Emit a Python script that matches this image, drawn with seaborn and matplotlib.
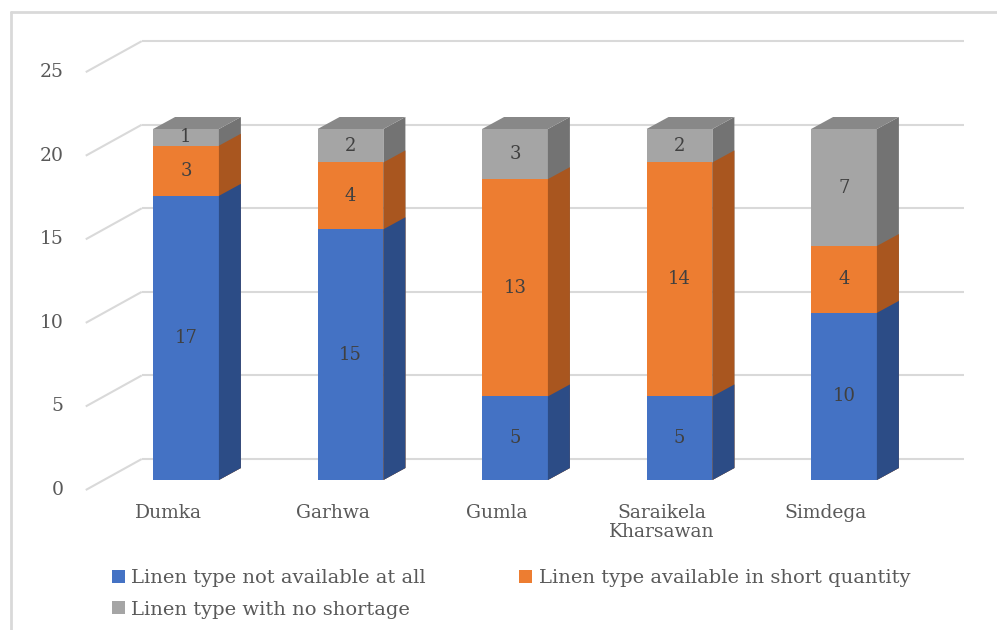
import numpy as np
import pandas as pd
import matplotlib
matplotlib.use("Agg")
import matplotlib.pyplot as plt
import seaborn as sns
from matplotlib.patches import Polygon, Patch
from matplotlib.lines import Line2D

# ---- data -------------------------------------------------------------
districts = ["Dumka", "Garhwa", "Gumla", "Saraikela\nKharsawan", "Simdega"]
not_available = [17, 15, 5, 5, 10]
short_quantity = [3, 4, 13, 14, 4]
no_shortage = [1, 2, 3, 2, 7]
series_names = [
    "Linen type not available at all",
    "Linen type available in short quantity",
    "Linen type with no shortage",
]
y_ticks = [0, 5, 10, 15, 20, 25]

# ---- style ------------------------------------------------------------
front_colors = ["#4472C4", "#ED7D31", "#A5A5A5"]
side_colors = ["#2C4C86", "#A9561F", "#737373"]
top_color = "#888888"
text_color = "#595959"
label_color = "#404040"
grid_color = "#D9D9D9"
FS = 13.5

W, H, DPI = 997, 630, 100
sns.set_theme(style="white")
plt.rcParams["font.family"] = ["DejaVu Serif"]

fig = plt.figure(figsize=(W / DPI, H / DPI), dpi=DPI)
fig.patch.set_facecolor("white")
ax = fig.add_axes([0, 0, 1, 1])

df = pd.DataFrame({
    "district": districts,
    "s0": not_available,
    "s1": short_quantity,
    "s2": no_shortage,
})
df["c0"] = df["s0"]
df["c1"] = df["c0"] + df["s1"]
df["c2"] = df["c1"] + df["s2"]

# stacked bars: cumulative totals, the lowest series drawn last (on top)
def layer_z(idx):
    return 3 + (2 - idx)

containers = {}
for idx in (2, 1, 0):
    sns.barplot(data=df, x="district", y=f"c{idx}", color=front_colors[idx],
                saturation=1, width=0.4, errorbar=None, ax=ax,
                linewidth=0, edgecolor="none", zorder=layer_z(idx))
    containers[idx] = ax.containers[-1]

XLIM = (-1.1307, 4.9301)
YLIM = (-8.974, 28.718)
ax.set_xlim(*XLIM)
ax.set_ylim(*YLIM)
ax.axis("off")

# pixel -> data unit scales for the oblique depth
sx = W / (XLIM[1] - XLIM[0])
sy = H / (YLIM[1] - YLIM[0])
bar_d = (22 / sx, 12 / sy)      # bar depth
wall_d = (38 / sx, 21 / sy)     # back wall offset
floor_d = (-18 / sx, -10 / sy)  # front floor edge offset
n = len(districts)
x_left, x_right = -0.5, n - 0.5

# side and top faces of the bars
for idx in (2, 1, 0):
    for rect in containers[idx].patches:
        x0, y0 = rect.get_x(), rect.get_y()
        w, h = rect.get_width(), rect.get_height()
        xr = x0 + w
        side = Polygon([(xr, y0), (xr + bar_d[0], y0 + bar_d[1]),
                        (xr + bar_d[0], y0 + h + bar_d[1]), (xr, y0 + h)],
                       closed=True, facecolor=side_colors[idx],
                       edgecolor="none", zorder=layer_z(idx) + 0.5)
        ax.add_patch(side)
        if idx == 2:
            top = Polygon([(x0, y0 + h), (x0 + bar_d[0], y0 + h + bar_d[1]),
                           (xr + bar_d[0], y0 + h + bar_d[1]), (xr, y0 + h)],
                          closed=True, facecolor=top_color,
                          edgecolor="none", zorder=layer_z(idx) + 0.6)
            ax.add_patch(top)

# gridlines on the back wall and the left wall, with value labels
for v in y_ticks:
    ax.plot([x_left + floor_d[0], x_left + wall_d[0]],
            [v + floor_d[1], v + wall_d[1]],
            color=grid_color, lw=1.5, zorder=1, solid_capstyle="butt")
    ax.plot([x_left + wall_d[0], x_right + wall_d[0]],
            [v + wall_d[1], v + wall_d[1]],
            color=grid_color, lw=1.5, zorder=1, solid_capstyle="butt")
    ax.text(x_left + floor_d[0] - 22 / sx, v + floor_d[1], str(v),
            ha="right", va="center", fontsize=FS, color=text_color)

# category labels along the front floor edge
for i, name in enumerate(districts):
    ax.text(i + floor_d[0], floor_d[1] - 14 / sy, name, ha="center",
            va="top", fontsize=FS, color=text_color, linespacing=1.05)

# value labels centred on each segment
series = [not_available, short_quantity, no_shortage]
bottom = np.zeros(n)
for idx, vals in enumerate(series):
    vals = np.asarray(vals, dtype=float)
    for i in range(n):
        ax.text(i, bottom[i] + vals[i] / 2, f"{int(vals[i])}", ha="center",
                va="center", fontsize=FS - 0.5, color=label_color, zorder=10)
    bottom += vals

# legend, filled row by row
handles = [Patch(facecolor=c, edgecolor="none") for c in front_colors]
order = [0, 2, 1]
fig.legend([handles[k] for k in order], [series_names[k] for k in order],
           loc="upper left", bbox_to_anchor=(112 / W, 1 - 569 / H),
           ncol=2, frameon=False, fontsize=FS + 0.5, labelcolor=text_color,
           handlelength=0.65, handleheight=0.65, handletextpad=0.35,
           columnspacing=4.8, labelspacing=0.7, borderpad=0,
           borderaxespad=0)

# chart area border (top and left edges)
fig.add_artist(Line2D([11 / W, 11 / W], [0, 1 - 12 / H], transform=fig.transFigure,
                      color="#D9D9D9", lw=2))
fig.add_artist(Line2D([11 / W, 1], [1 - 12 / H, 1 - 12 / H], transform=fig.transFigure,
                      color="#D9D9D9", lw=2))

fig.savefig("out.png", dpi=DPI, facecolor="white")
